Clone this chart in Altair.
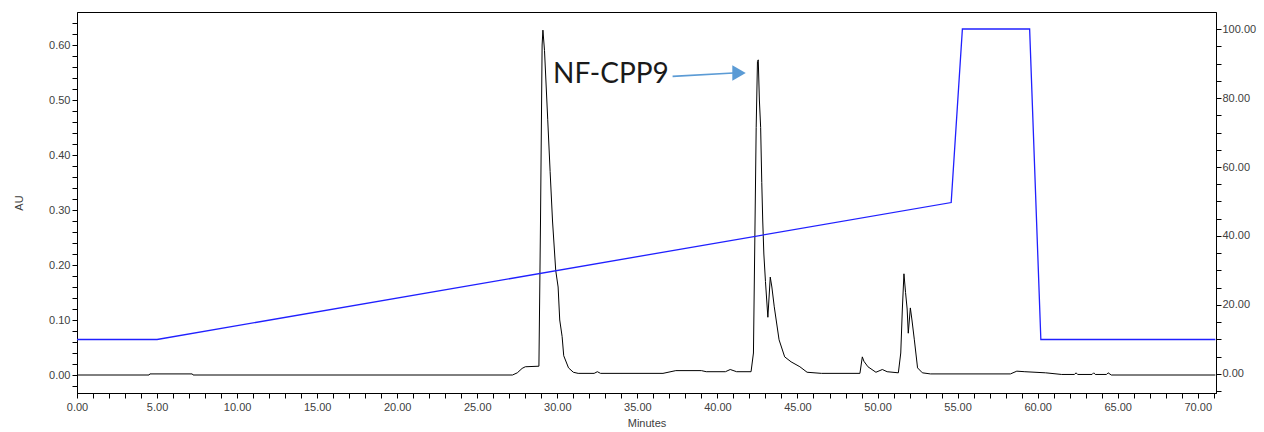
import altair as alt
import pandas as pd

# Chromatogram (black, AU, left axis)
minutes = [0, 4.5, 4.55, 7.2, 7.25, 27.2, 27.5, 27.8, 28.0, 28.85, 28.95, 29.05, 29.1,
           29.2, 29.4, 29.55, 29.7, 29.9, 30.05, 30.15, 30.3, 30.4, 30.7, 31.0, 31.3,
           32.3, 32.5, 32.7, 36.6, 37.4, 39.0, 39.3, 40.5, 40.8, 41.2, 42.1, 42.25, 42.35,
           42.42, 42.5, 42.55, 42.62, 42.7, 42.77, 42.83, 42.9, 43.0, 43.15, 43.3, 43.4,
           43.55, 43.85, 44.2, 44.6, 45.15, 45.6, 46.5, 48.9, 49.05, 49.15, 49.4, 49.9,
           50.3, 50.6, 51.3, 51.45, 51.55, 51.65, 51.75, 51.85, 51.92, 52.05, 52.15, 52.3,
           52.5, 52.8, 53.3, 58.3, 58.7, 59.2, 60.5, 61.5, 62.3, 62.4, 62.5, 63.4, 63.5,
           63.6, 64.3, 64.4, 64.6, 71.1]
au = [0.000, 0.000, 0.002, 0.002, 0.000, 0.000, 0.004, 0.012, 0.015, 0.016, 0.28, 0.60, 0.627,
      0.59, 0.465, 0.37, 0.28, 0.19, 0.16, 0.10, 0.07, 0.035, 0.013, 0.005, 0.003,
      0.003, 0.006, 0.003, 0.003, 0.008, 0.008, 0.006, 0.006, 0.010, 0.006, 0.006, 0.04, 0.28,
      0.45, 0.57, 0.573, 0.50, 0.45, 0.35, 0.28, 0.22, 0.17, 0.105, 0.178, 0.16,
      0.124, 0.064, 0.033, 0.024, 0.015, 0.005, 0.003, 0.003, 0.033, 0.025, 0.015, 0.005,
      0.010, 0.006, 0.004, 0.04, 0.12, 0.184, 0.15, 0.12, 0.076, 0.122, 0.10, 0.064,
      0.013, 0.004, 0.002, 0.002, 0.007, 0.006, 0.004, 0.001, 0.001, 0.004, 0.001, 0.001, 0.004,
      0.001, 0.001, 0.004, 0.000, 0.000]

# Gradient (blue, %, right axis)
grad_minutes = [0, 5, 54.6, 55.3, 59.5, 60.2, 71.1]
grad_pct = [10, 10, 49.7, 100, 100, 10, 10]

# Annotation
label_text = ["NF-CPP9"]
label_min = [29.73]
label_au = [0.545]
arrow_min = [37.2]
arrow_au = [0.543]
arrow_end_min = [41.0]
arrow_end_au = [0.549]
head_min = [41.35]
head_au = [0.549]

x_ticks = list(range(0, 72))
left_ticks = [round(-0.02 + 0.02 * i, 2) for i in range(0, 34)]
right_ticks = list(range(-5, 105, 5))

xscale = alt.Scale(domain=[0, 71.14], nice=False, zero=False)
yl_scale = alt.Scale(domain=[-0.0327, 0.66], nice=False, zero=False)
yr_scale = alt.Scale(domain=[-5.51, 104.93], nice=False, zero=False)

axis_common = dict(domainColor="black", tickColor="black", tickSize=5, grid=False,
                   labelFont="Liberation Sans", labelFontSize=11, labelColor="#404040",
                   titleFont="Liberation Sans", titleFontSize=11, titleFontWeight="normal",
                   titleColor="#404040", labelOverlap=False, labelFlush=False)

x_axis = alt.Axis(values=x_ticks, title="Minutes", titlePadding=5, labelPadding=3,
                  labelExpr="datum.value % 5 == 0 ? format(datum.value, '.2f') : ''",
                  **axis_common)
yl_axis = alt.Axis(values=left_ticks, title="AU", titlePadding=24, labelPadding=2,
                   labelExpr="round(datum.value*100) % 10 == 0 && datum.value >= 0 ? format(datum.value, '.2f') : ''",
                   **axis_common)
yr_axis = alt.Axis(values=right_ticks, title=None, orient="right", labelPadding=1,
                   labelExpr="datum.value % 20 == 0 && datum.value >= 0 ? format(datum.value, '.2f') : ''",
                   **axis_common)

df = pd.DataFrame({"Minutes": minutes, "AU": au})
gdf = pd.DataFrame({"Minutes": grad_minutes, "Pct": grad_pct})
tdf = pd.DataFrame({"Minutes": label_min, "AU": label_au, "t": label_text})
adf = pd.DataFrame({"Minutes": arrow_min, "AU": arrow_au, "M2": arrow_end_min, "A2": arrow_end_au})
hdf = pd.DataFrame({"Minutes": head_min, "AU": head_au})

black = alt.Chart(df).mark_line(color="black", strokeWidth=1).encode(
    x=alt.X("Minutes:Q", scale=xscale, axis=x_axis),
    y=alt.Y("AU:Q", scale=yl_scale, axis=yl_axis),
    order="Minutes:Q",
)
text = alt.Chart(tdf).mark_text(align="left", baseline="middle", font="Lato",
                                fontSize=28, color="#1a1a1a").encode(
    x=alt.X("Minutes:Q", scale=xscale, axis=x_axis),
    y=alt.Y("AU:Q", scale=yl_scale, axis=yl_axis),
    text="t:N",
)
arrow = alt.Chart(adf).mark_rule(color="#5b9bd5", strokeWidth=1.6).encode(
    x=alt.X("Minutes:Q", scale=xscale, axis=x_axis),
    y=alt.Y("AU:Q", scale=yl_scale, axis=yl_axis),
    x2="M2:Q", y2="A2:Q",
)
head = alt.Chart(hdf).mark_point(shape="triangle-right", filled=True, size=240,
                                 color="#5b9bd5", opacity=1).encode(
    x=alt.X("Minutes:Q", scale=xscale, axis=x_axis),
    y=alt.Y("AU:Q", scale=yl_scale, axis=yl_axis),
)
left = alt.layer(black, arrow, head, text)

blue = alt.Chart(gdf).mark_line(color="#2020ff", strokeWidth=1.3).encode(
    x=alt.X("Minutes:Q", scale=xscale, axis=x_axis),
    y=alt.Y("Pct:Q", scale=yr_scale, axis=yr_axis),
    order="Minutes:Q",
)

chart = alt.layer(left, blue).resolve_scale(y="independent").properties(
    width=1139, height=381,
    autosize=alt.AutoSizeParams(type="none"),
    padding={"left": 77, "top": 12, "right": 48, "bottom": 39},
).configure_view(stroke="black", strokeWidth=1)

chart.save("out.html", embed_options={"renderer": "svg", "actions": False})
